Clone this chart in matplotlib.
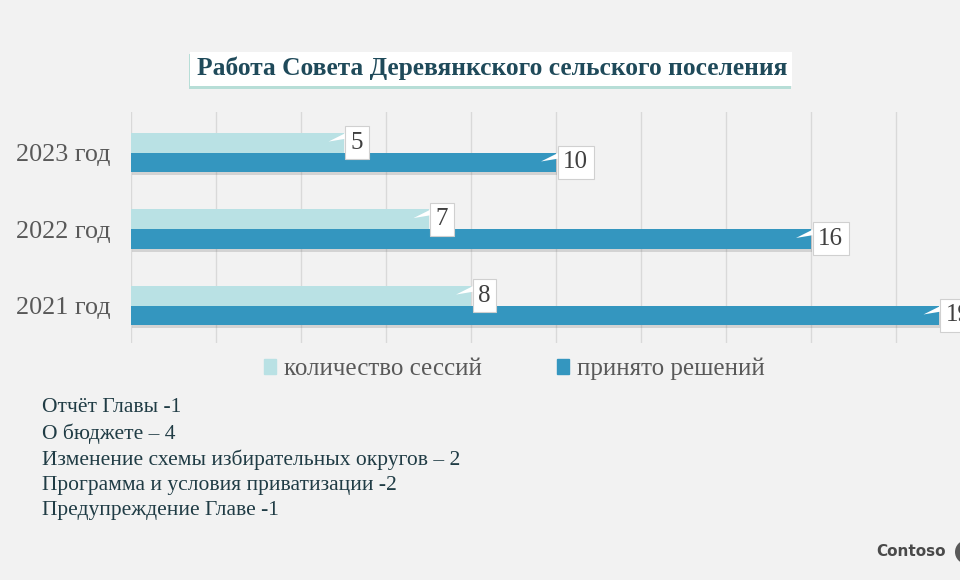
import numpy as np
import matplotlib.pyplot as plt
from matplotlib.patches import Rectangle, Polygon, Ellipse
import matplotlib.patheffects as pe

# data
years = ['2021 год', '2022 год', '2023 год']
sessions = [8, 7, 5]
decisions = [19, 16, 10]
series_names = ['количество сессий', 'принято решений']
title = 'Работа Совета Деревянкского сельского поселения'
notes = ['Отчёт Главы -1',
         'О бюджете – 4',
         'Изменение схемы избирательных округов – 2',
         'Программа и условия приватизации -2',
         'Предупреждение Главе -1']

bg = '#f2f2f2'
light = '#b9e1e4'
dark = '#3496bf'
serif = ['Liberation Serif', 'DejaVu Serif']

W, H = 960, 580
fig = plt.figure(figsize=(W / 100, H / 100), dpi=100)
fig.patch.set_facecolor(bg)

# axes run past the right edge like the original slide
ax = fig.add_axes([131 / W, 1 - 343 / H, 850 / W, 231 / H])
ax.set_facecolor(bg)

y = np.arange(len(years))
bh = 0.26
ax.barh(y + bh / 2, sessions, height=bh, color=light, zorder=3)
bars2 = ax.barh(y - bh / 2, decisions, height=bh, color=dark, zorder=3)
for b in bars2:
    b.set_path_effects([pe.SimplePatchShadow(offset=(1, -2), shadow_rgbFace='#777777', alpha=0.25),
                        pe.Normal()])

ax.set_xlim(0, 20)
ax.set_ylim(-0.49, 2.53)
ax.set_xticks(np.arange(0, 21, 2))
ax.xaxis.grid(True, color='#d9d9d9', linewidth=1, zorder=0)
ax.tick_params(axis='x', bottom=False, labelbottom=False)
ax.tick_params(axis='y', left=False, pad=11)
ax.set_yticks(y)
ax.set_yticklabels(years, family=serif, fontsize=18.8, color='#595959')
for s in ax.spines.values():
    s.set_visible(False)

# data labels as callouts
px = 20 / 850
py = 3.02 / 231


def callout(val, yc):
    bl = val + 2 * px
    ax.add_patch(Polygon([(bl + px, yc + 10 * py), (bl + px, yc + 4 * py), (bl - 17 * px, yc + 1 * py)],
                         closed=True, facecolor='white', edgecolor='none', zorder=5))
    ax.text(bl + 5 * px, yc, str(val), family=serif, fontsize=18, color='#404040',
            ha='left', va='center', zorder=6,
            bbox=dict(boxstyle='square,pad=0.22', facecolor='white', edgecolor='#d0d0d0', linewidth=0.8))


for i in range(len(years)):
    callout(sessions[i], y[i] + bh / 2)
    callout(decisions[i], y[i] - bh / 2)

# legend
handles = [Rectangle((0, 0), 1, 1, color=light), Rectangle((0, 0), 1, 1, color=dark)]
fig.legend(handles, series_names, loc='center', bbox_to_anchor=(514 / W, 1 - 369 / H),
           ncol=2, frameon=False, handlelength=0.5, handleheight=0.5, handletextpad=0.3,
           columnspacing=3.0, prop={'family': serif, 'size': 18}, labelcolor='#595959')

# title box with teal shadow
fig.patches.append(Rectangle((189 / W, 1 - 89 / H), 602 / W, 35 / H, transform=fig.transFigure,
                             facecolor='#a9d9d1', edgecolor='none', alpha=0.8))
fig.patches.append(Rectangle((190 / W, 1 - 86 / H), 602 / W, 34 / H, transform=fig.transFigure,
                             facecolor='white', edgecolor='none'))
fig.text(492 / W, 1 - 68 / H, title, family=serif, fontsize=18.4, fontweight='bold',
         color='#1f4a5a', ha='center', va='center')

# notes
for k, line in enumerate(notes):
    fig.text(42 / W, 1 - (408 + 25.7 * k) / H, line, family=serif, fontsize=15.5,
             color='#203c45', ha='left', va='center')

# logo
fig.text(876 / W, 1 - 551 / H, 'Contoso', family='DejaVu Sans', fontsize=11,
         fontweight='bold', color='#4a4a4a', ha='left', va='center')
fig.patches.append(Ellipse((967 / W, 1 - 552 / H), 24 / W, 24 / H, transform=fig.transFigure,
                           facecolor='#595959', edgecolor='none'))

fig.savefig('out.png', dpi=100, facecolor=bg)
